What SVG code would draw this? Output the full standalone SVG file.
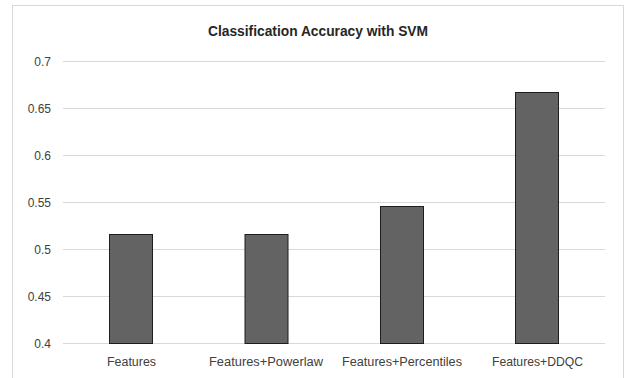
<svg xmlns="http://www.w3.org/2000/svg" width="627" height="378" viewBox="0 0 627 378">
<style>
.grid{stroke:#d9d9d9;stroke-width:1}
.bar{fill:#636363;stroke:#1e1e1e;stroke-width:1}
.ax{font-family:"Liberation Sans",Arial,sans-serif;font-size:12px;fill:#404040}
.cat{font-family:"Liberation Sans",Arial,sans-serif;font-size:12.5px;fill:#404040;text-anchor:middle}
.title{font-family:"Liberation Sans",Arial,sans-serif;font-size:14px;font-weight:bold;fill:#262626;text-anchor:middle}
</style>
<rect x="0" y="0" width="627" height="378" fill="#fff"/>
<rect x="12.5" y="5.5" width="611" height="380" fill="#fff" stroke="#d9d9d9"/>
<text class="title" x="318" y="36" textLength="220" lengthAdjust="spacingAndGlyphs">Classification Accuracy with SVM</text>
<g id="gridlines">
<line class="grid" x1="63" y1="61.5" x2="605" y2="61.5"/>
<line class="grid" x1="63" y1="108.5" x2="605" y2="108.5"/>
<line class="grid" x1="63" y1="155.5" x2="605" y2="155.5"/>
<line class="grid" x1="63" y1="202.5" x2="605" y2="202.5"/>
<line class="grid" x1="63" y1="249.5" x2="605" y2="249.5"/>
<line class="grid" x1="63" y1="296.5" x2="605" y2="296.5"/>
<line class="grid" x1="63" y1="343.5" x2="605" y2="343.5"/>
</g>
<g id="yaxis" text-anchor="end">
<text class="ax" x="51" y="66">0.7</text>
<text class="ax" x="51" y="113">0.65</text>
<text class="ax" x="51" y="160">0.6</text>
<text class="ax" x="51" y="207">0.55</text>
<text class="ax" x="51" y="254">0.5</text>
<text class="ax" x="51" y="301">0.45</text>
<text class="ax" x="51" y="348">0.4</text>
</g>
<g id="bar-features"><rect class="bar" x="109.5" y="234.5" width="43" height="109"/><text class="cat" x="131.5" y="366" textLength="49" lengthAdjust="spacingAndGlyphs">Features</text></g>
<g id="bar-powerlaw"><rect class="bar" x="245" y="234.5" width="43" height="109"/><text class="cat" x="266" y="366" textLength="114" lengthAdjust="spacingAndGlyphs">Features+Powerlaw</text></g>
<g id="bar-percentiles"><rect class="bar" x="380.5" y="206.5" width="43" height="137"/><text class="cat" x="402" y="366" textLength="120" lengthAdjust="spacingAndGlyphs">Features+Percentiles</text></g>
<g id="bar-ddqc"><rect class="bar" x="515.5" y="92.5" width="43" height="251"/><text class="cat" x="537.5" y="366" textLength="91" lengthAdjust="spacingAndGlyphs">Features+DDQC</text></g>
</svg>
